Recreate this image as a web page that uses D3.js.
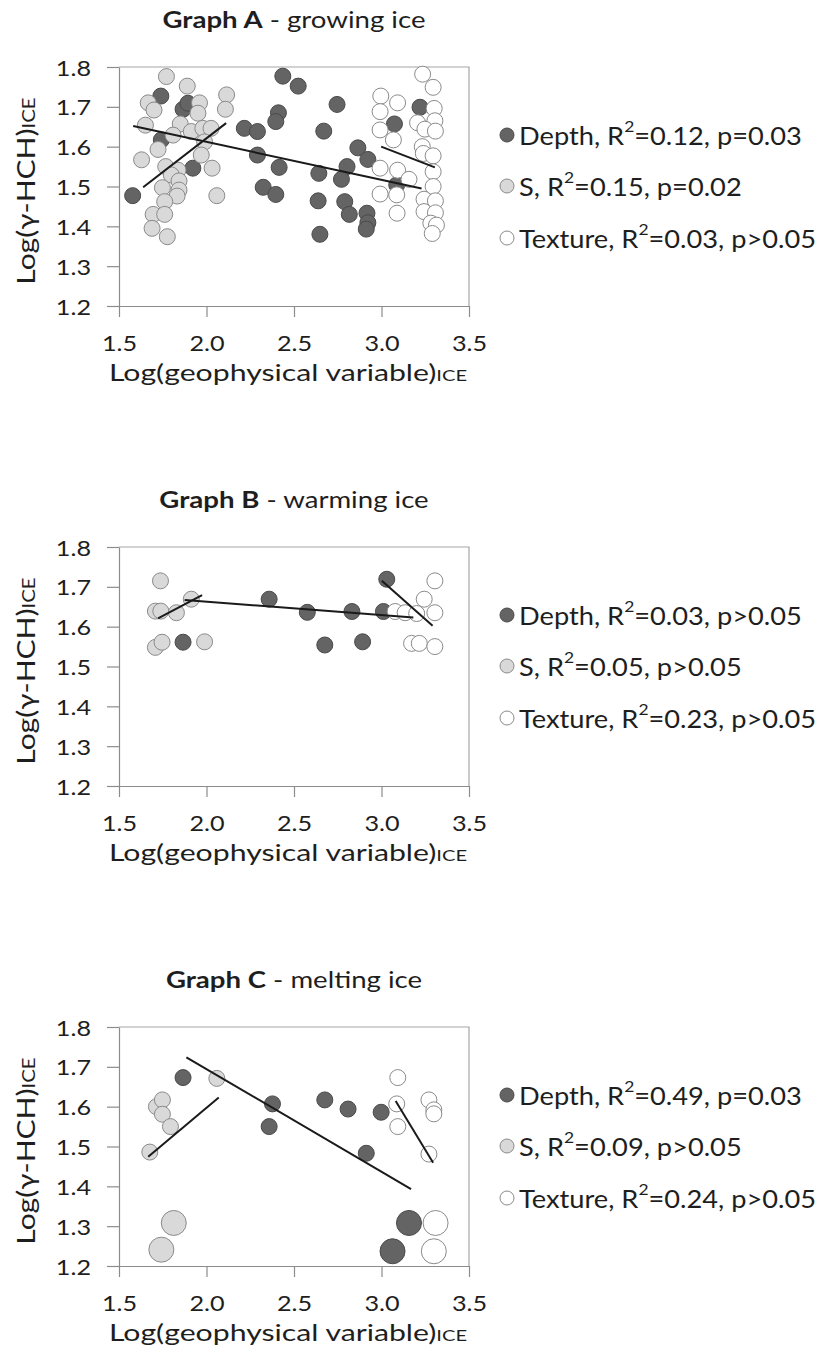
<!DOCTYPE html>
<html>
<head>
<meta charset="utf-8">
<script src="https://cdn.jsdelivr.net/npm/d3@7"></script>
<style>
  html, body { margin: 0; padding: 0; background: #fff; }
  svg { display: block; font-family: Lato, "Open Sans", sans-serif; }
</style>
</head>
<body>
<svg id="chart" width="818" height="1366"></svg>
<script>
// Shared axis ticks
const xTicks = [1.5, 2.0, 2.5, 3.0, 3.5];
const yTicks = [1.2, 1.3, 1.4, 1.5, 1.6, 1.7, 1.8];

// Graph A - growing ice
const aDepth = [
  [1.578,1.477],[1.739,1.727],[1.866,1.694],[1.894,1.709],[1.742,1.617],[1.922,1.546],
  [2.216,1.646],[2.291,1.638],[2.436,1.777],[2.411,1.685],[2.396,1.663],[2.291,1.579],
  [2.415,1.548],[2.324,1.498],[2.396,1.480],[2.524,1.752],[2.746,1.706],[2.670,1.639],
  [2.865,1.597],[2.922,1.568],[2.803,1.550],[2.642,1.533],[2.771,1.518],[2.638,1.464],
  [2.790,1.462],[2.816,1.430],[2.917,1.433],[2.922,1.409],[2.913,1.393],[2.648,1.380],
  [3.220,1.699],[3.074,1.657],[3.087,1.504]
];
const aS = [
  [1.771,1.776],[1.890,1.752],[1.667,1.710],[1.700,1.692],[1.960,1.710],[1.951,1.684],
  [2.115,1.730],[2.108,1.694],[1.651,1.654],[1.850,1.657],[1.809,1.629],[1.913,1.638],
  [1.979,1.646],[2.026,1.646],[1.989,1.612],[1.723,1.593],[1.629,1.567],[1.970,1.579],
  [1.767,1.550],[1.837,1.541],[1.799,1.529],[2.032,1.546],[1.843,1.514],[1.748,1.497],
  [1.843,1.491],[1.832,1.476],[1.761,1.462],[2.059,1.477],[1.695,1.430],[1.761,1.430],
  [1.689,1.395],[1.776,1.374]
];
const aTexture = [
  [3.235,1.782],[3.295,1.749],[2.996,1.727],[3.092,1.710],[2.992,1.688],[3.301,1.696],
  [3.305,1.665],[3.206,1.660],[3.248,1.644],[3.308,1.639],[2.992,1.642],[3.068,1.617],
  [3.233,1.600],[3.239,1.583],[3.295,1.577],[2.992,1.546],[3.092,1.541],[3.157,1.518],
  [3.295,1.537],[3.295,1.500],[3.087,1.479],[2.992,1.481],[3.243,1.468],[3.308,1.464],
  [3.243,1.437],[3.308,1.434],[3.089,1.433],[3.282,1.408],[3.314,1.403],[3.290,1.382]
];
const aDepthFit = [[1.581,1.652],[3.229,1.495]];
const aSFit = [[1.638,1.498],[2.112,1.659]];
const aTextureFit = [[2.998,1.600],[3.305,1.548]];
const aStats = [["0.12","p=0.03"],["0.15","p=0.02"],["0.03","p>0.05"]];

// Graph B - warming ice
const bDepth = [
  [1.866,1.561],[2.358,1.669],[2.576,1.636],[2.676,1.554],[2.831,1.638],[2.892,1.562],
  [3.011,1.638],[3.030,1.719]
];
const bS = [
  [1.737,1.715],[1.708,1.639],[1.739,1.639],[1.828,1.635],[1.913,1.669],[1.708,1.548],
  [1.746,1.561],[1.989,1.562]
];
const bTexture = [
  [3.078,1.638],[3.135,1.635],[3.201,1.633],[3.244,1.669],[3.305,1.715],[3.305,1.635],
  [3.172,1.558],[3.216,1.558],[3.305,1.550]
];
const bDepthFit = [[1.875,1.667],[3.182,1.623]];
const bSFit = [[1.723,1.621],[1.975,1.679]];
const bTextureFit = [[3.002,1.715],[3.292,1.602]];
const bStats = [["0.03","p>0.05"],["0.05","p>0.05"],["0.23","p>0.05"]];

// Graph C - melting ice (second list of each series: enlarged markers)
const cDepth = [
  [1.866,1.673],[2.377,1.607],[2.358,1.550],[2.676,1.617],[2.809,1.594],[2.998,1.586],
  [2.913,1.483]
];
const cDepthLarge = [[3.157,1.308],[3.063,1.237]];
const cS = [
  [1.676,1.486],[1.714,1.600],[1.748,1.617],[1.748,1.581],[1.794,1.550],[2.059,1.671]
];
const cSLarge = [[1.813,1.308],[1.742,1.241]];
const cTexture = [
  [3.093,1.673],[3.087,1.607],[3.093,1.550],[3.271,1.617],[3.299,1.592],[3.299,1.582],
  [3.271,1.481]
];
const cTextureLarge = [[3.309,1.308],[3.299,1.237]];
const cDepthFit = [[1.885,1.724],[3.169,1.393]];
const cSFit = [[1.667,1.474],[2.070,1.623]];
const cTextureFit = [[3.081,1.614],[3.295,1.459]];
const cStats = [["0.49","p=0.03"],["0.09","p>0.05"],["0.24","p>0.05"]];

const seriesNames = ["Depth", "S", "Texture"];

// Marker styles per series
const styles = [
  { fill: "#646464", stroke: "#4a4a4a" },
  { fill: "#d9d9d9", stroke: "#8a8a8a" },
  { fill: "#ffffff", stroke: "#8a8a8a" }
];

const panels = [
  { top: 67, bold: "Graph A", rest: " - growing ice",
    pts: [aDepth, aS, aTexture], big: [[], [], []],
    fits: [aDepthFit, aSFit, aTextureFit], stats: aStats },
  { top: 547, bold: "Graph B", rest: " - warming ice",
    pts: [bDepth, bS, bTexture], big: [[], [], []],
    fits: [bDepthFit, bSFit, bTextureFit], stats: bStats },
  { top: 1027, bold: "Graph C", rest: " - melting ice",
    pts: [cDepth, cS, cTexture], big: [cDepthLarge, cSLarge, cTextureLarge],
    fits: [cDepthFit, cSFit, cTextureFit], stats: cStats }
];

const svg = d3.select("#chart");
const left = 119, right = 469, plotH = 239;
const axisColor = "#8c8c8c", textColor = "#1e1e1e";

// Widen a text element horizontally about its own anchor point
function widen(sel, sx) {
  sel.each(function () {
    const t = d3.select(this);
    const x = +t.attr("x") || 0;
    t.attr("x", x / sx).attr("transform", `scale(${sx},1)`);
  });
}

panels.forEach(p => {
  const top = p.top, bottom = top + plotH;
  const x = d3.scaleLinear().domain([1.5, 3.5]).range([left, right]);
  const y = d3.scaleLinear().domain([1.2, 1.8]).range([bottom, top]);
  const g = svg.append("g");

  // Title
  const t = g.append("text")
    .attr("x", (left + right) / 2).attr("y", top - 39)
    .attr("text-anchor", "middle").attr("font-size", 23).attr("fill", textColor);
  t.append("tspan").attr("font-weight", "bold").text(p.bold);
  t.append("tspan").text(p.rest);
  widen(t, 1.2);

  // Frame (top and right edges)
  g.append("path")
    .attr("d", `M${left},${top}H${right}V${bottom}`)
    .attr("fill", "none").attr("stroke", "#a6a6a6").attr("stroke-width", 1.2);

  // Y axis
  const yAxis = g.append("g").attr("transform", `translate(${left},0)`)
    .call(d3.axisLeft(y).tickValues(yTicks).tickFormat(d3.format(".1f"))
      .tickSize(12).tickSizeOuter(0).tickPadding(16));
  // X axis
  const xAxis = g.append("g").attr("transform", `translate(0,${bottom})`)
    .call(d3.axisBottom(x).tickValues(xTicks).tickFormat(d3.format(".1f"))
      .tickSize(11).tickSizeOuter(0));
  [yAxis, xAxis].forEach(a => {
    a.select(".domain").attr("stroke", axisColor).attr("stroke-width", 1.2);
    a.selectAll(".tick line").attr("stroke", axisColor).attr("stroke-width", 1.2);
    a.selectAll("text").attr("fill", textColor).attr("font-size", 21)
      .attr("font-family", "Lato, 'Open Sans', sans-serif");
  });
  yAxis.selectAll("text").attr("dy", null).attr("dominant-baseline", "central");
  xAxis.selectAll("text").attr("dy", null).attr("y", 37).attr("dominant-baseline", "central");
  widen(yAxis.selectAll("text"), 1.2);
  widen(xAxis.selectAll("text"), 1.2);

  // Axis titles
  const xt = g.append("text")
    .attr("x", (left + right) / 2 - 6).attr("y", bottom + 75)
    .attr("text-anchor", "middle").attr("font-size", 24).attr("fill", textColor);
  xt.append("tspan").text("Log(geophysical variable)");
  xt.append("tspan").attr("font-size", 16).text("ICE");
  widen(xt, 1.26);

  const yt = g.append("text")
    .attr("transform", `translate(35,${top + 124}) rotate(-90) scale(1.2,1)`)
    .attr("text-anchor", "middle").attr("font-size", 25).attr("fill", textColor);
  yt.append("tspan").text("Log(γ-HCH)");
  yt.append("tspan").attr("font-size", 17).text("ICE");

  // Points, drawn series by series
  p.pts.forEach((arr, i) => {
    g.append("g").selectAll("circle").data(arr).join("circle")
      .attr("cx", d => x(d[0])).attr("cy", d => y(d[1])).attr("r", 8)
      .attr("fill", styles[i].fill).attr("stroke", styles[i].stroke).attr("stroke-width", 1);
  });
  p.big.forEach((arr, i) => {
    g.append("g").selectAll("circle").data(arr).join("circle")
      .attr("cx", d => x(d[0])).attr("cy", d => y(d[1])).attr("r", 12.5)
      .attr("fill", styles[i].fill).attr("stroke", styles[i].stroke).attr("stroke-width", 1);
  });

  // Regression lines
  const line = d3.line().x(d => x(d[0])).y(d => y(d[1]));
  p.fits.forEach(f => {
    g.append("path").attr("d", line(f)).attr("fill", "none")
      .attr("stroke", "#1a1a1a").attr("stroke-width", 2);
  });

  // Legend
  const rows = [68, 119, 171];
  p.stats.forEach((s, i) => {
    const ly = top + rows[i];
    g.append("circle").attr("cx", 507).attr("cy", ly).attr("r", 7)
      .attr("fill", styles[i].fill).attr("stroke", styles[i].stroke).attr("stroke-width", 1);
    const lt = g.append("text").attr("x", 519).attr("y", ly)
      .attr("dominant-baseline", "central").attr("font-size", 25).attr("fill", textColor);
    lt.append("tspan").text(seriesNames[i] + ", R");
    lt.append("tspan").attr("font-size", 16).attr("dy", -10).text("2");
    lt.append("tspan").attr("dy", 10).text("=" + s[0] + ", " + s[1]);
    widen(lt, 1.09);
  });
});
</script>
</body>
</html>
